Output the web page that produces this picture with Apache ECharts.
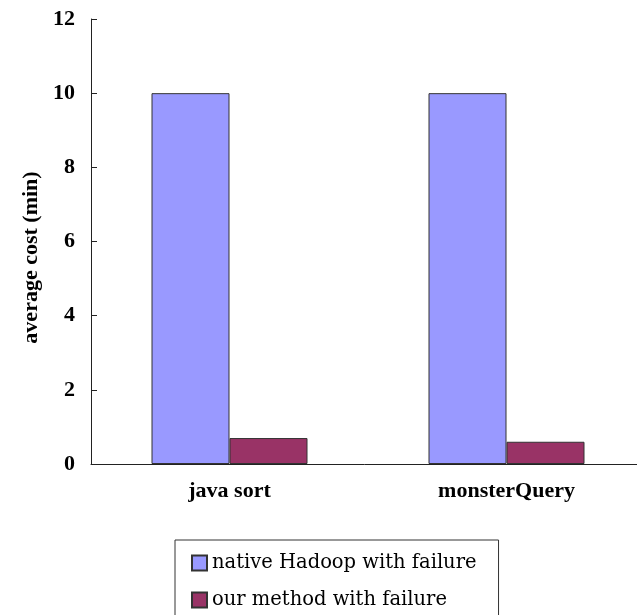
<!DOCTYPE html>
<html>
<head>
<meta charset="utf-8">
<script src="https://cdn.jsdelivr.net/npm/echarts@6/dist/echarts.min.js"></script>
<style>
  html, body { margin: 0; padding: 0; background: #fff; }
  #chart { width: 637px; height: 615px; }
</style>
</head>
<body>
<div id="chart"></div>
<script>
// Workloads on the x axis
const categories = ['java sort', 'monsterQuery'];
// Average cost in minutes for each approach
const nativeHadoop = [10, 10];
const ourMethod = [0.7, 0.6];
const seriesNames = ['native Hadoop with failure', 'our method with failure'];
const yTicks = { min: 0, max: 12, interval: 2 };

const chart = echarts.init(document.getElementById('chart'), null, { renderer: 'canvas' });

const boldSerif = { fontFamily: 'Liberation Serif', fontWeight: 'bold', color: '#000' };

chart.setOption({
  backgroundColor: '#fff',
  animation: false,
  // plot area runs a little past the right edge of the canvas
  grid: { left: 91, width: 554, top: 19, bottom: 151, containLabel: false, outerBoundsMode: 'none' },
  legend: {
    orient: 'vertical',
    left: 175,
    top: 540,
    height: 90,
    data: seriesNames,
    borderColor: '#333',
    borderWidth: 1,
    padding: [12, 22, 12, 16],
    itemWidth: 15,
    itemHeight: 15,
    itemGap: 15,
    icon: 'rect',
    textStyle: { fontFamily: 'DejaVu Serif', fontSize: 19.5, color: '#000', lineHeight: 22 }
  },
  xAxis: {
    type: 'category',
    data: categories,
    axisLine: { lineStyle: { color: '#222', width: 1 } },
    axisTick: { inside: true, length: 7, lineStyle: { color: '#222' } },
    axisLabel: Object.assign({ fontSize: 22, margin: 16 }, boldSerif),
    splitLine: { show: false }
  },
  yAxis: {
    type: 'value',
    min: yTicks.min,
    max: yTicks.max,
    interval: yTicks.interval,
    name: 'average cost (min)',
    nameLocation: 'middle',
    nameRotate: 90,
    nameGap: 49,
    nameTextStyle: Object.assign({ fontSize: 22, padding: [0, 32, 0, 0] }, boldSerif),
    axisLine: { show: true, lineStyle: { color: '#222', width: 1 } },
    axisTick: { show: true, inside: true, length: 6, lineStyle: { color: '#222' } },
    axisLabel: Object.assign({ fontSize: 22, margin: 16 }, boldSerif),
    splitLine: { show: false }
  },
  series: [
    {
      name: seriesNames[0],
      type: 'bar',
      data: nativeHadoop,
      barWidth: 78,
      barGap: '0%',
      itemStyle: { color: '#9999FF', borderColor: '#333', borderWidth: 1 }
    },
    {
      name: seriesNames[1],
      type: 'bar',
      data: ourMethod,
      barWidth: 78,
      barGap: '0%',
      itemStyle: { color: '#993366', borderColor: '#333', borderWidth: 1 }
    }
  ]
});
</script>
</body>
</html>
